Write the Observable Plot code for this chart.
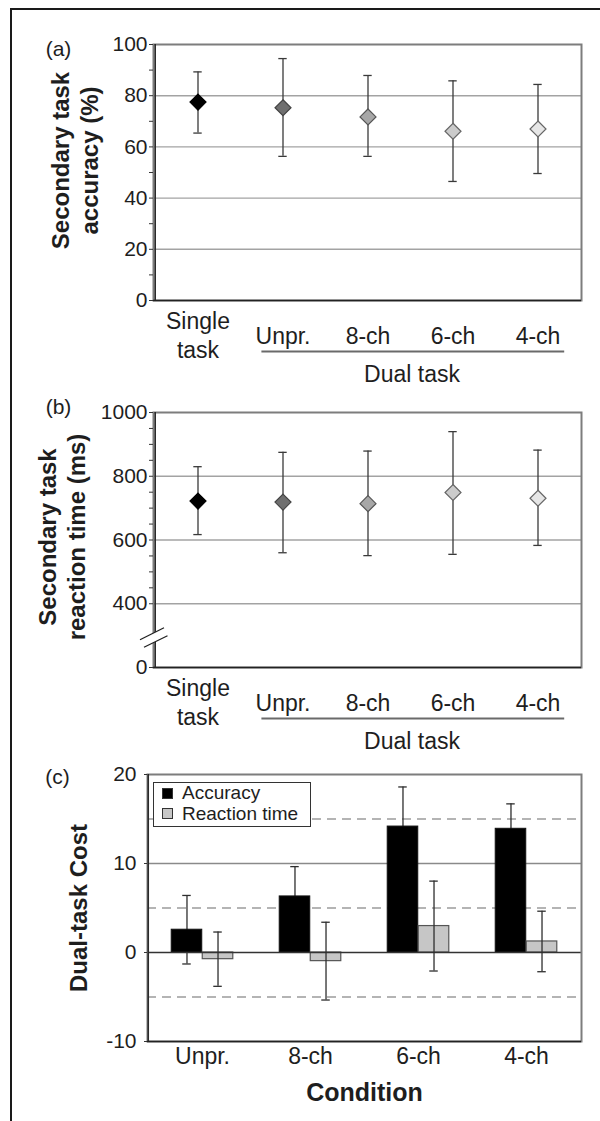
<!DOCTYPE html>
<html><head><meta charset="utf-8">
<script src="https://cdn.jsdelivr.net/npm/d3@7"></script>
<script src="https://cdn.jsdelivr.net/npm/@observablehq/plot@0.6"></script>
<style>
html,body{margin:0;padding:0;background:#fff;}
#fig{position:relative;width:600px;height:1121px;overflow:hidden;font-family:"Liberation Sans",Arial,sans-serif;color:#1e1e1e;}
.border{position:absolute;left:10px;top:8px;right:-5px;bottom:-5px;border-left:2.5px solid #1a1a1a;border-top:2.5px solid #1a1a1a;}
.panel{position:absolute;left:0;width:600px;}
.legend{position:absolute;left:153px;top:782px;width:158px;height:45px;box-sizing:border-box;border:1.5px solid #333;background:#fff;font-size:19px;line-height:20.5px;padding-top:0px;}
.legend .row{display:flex;align-items:center;white-space:nowrap;height:20.5px;}
.legend .sw{width:11px;height:11px;box-sizing:border-box;border:1px solid #333;margin-left:8px;margin-right:9px;}
</style>
</head><body><div id="fig"><div class="border"></div></div>
<script>
// ---------- data ----------
const conditionsAB = ["Single task", "Unpr.", "8-ch", "6-ch", "4-ch"];
const dualGroupLabel = "Dual task";
const accMean = [77.5, 75.3, 71.7, 66.1, 67.0];
const accLow  = [65.4, 56.3, 56.3, 46.5, 49.6];
const accHigh = [89.3, 94.5, 87.9, 85.8, 84.4];
const rtMean = [722, 719, 714, 749, 731];
const rtLow  = [617, 560, 551, 555, 583];
const rtHigh = [830, 875, 879, 940, 882];
const markerFills   = ["#000000", "#6f6f6f", "#a7a7a7", "#cbcbcb", "#e6e6e6"];
const markerStrokes = ["#000000", "#444444", "#555555", "#666666", "#666666"];

const accTicks = [0, 20, 40, 60, 80, 100];
const accMinorTicks = [10, 30, 50, 70, 90];
const accGrid = [20, 40, 60, 80];

const rtAxisFloor = 200;          // where the broken axis shows "0"
const rtBreakAt = 295;            // axis break mark
const rtTicks = [rtAxisFloor, 400, 600, 800, 1000];
const rtMinorTicks = [450, 500, 550, 650, 700, 750, 850, 900, 950];
const rtGrid = [400, 600, 800];

const conditionsC = ["Unpr.", "8-ch", "6-ch", "4-ch"];
const seriesC = ["Accuracy", "Reaction time"];
const seriesFills = ["#000000", "#c6c6c6"];
const costAcc    = [2.56, 6.3, 14.15, 13.9];
const costAccErr = [3.85, 3.35, 4.45, 2.8];
const costRt     = [-0.75, -0.97, 2.97, 1.24];
const costRtErr  = [3.05, 4.37, 5.05, 3.4];
const costTicks = [-10, 0, 10, 20];
const costDashedGrid = [-5, 5, 15];
const costSolidGrid = [10];

const titles = ["Secondary task\naccuracy (%)", "Secondary task\nreaction time (ms)", "Dual-task Cost"];
const panelLetters = ["(a)", "(b)", "(c)"];
const xTitleC = "Condition";

// ---------- helpers ----------
const font = '"Liberation Sans", Arial, sans-serif';
const fig = document.getElementById("fig");
function place(node, top) {
  const d = document.createElement("div");
  d.className = "panel"; d.style.top = top + "px";
  d.appendChild(node); fig.appendChild(d);
}
const baseStyle = {fontFamily: font, fontSize: "21px", color: "#1e1e1e", background: "transparent", overflow: "visible"};
const mlAB = 153, mrAB = 19;
const bwAB = (600 - mlAB - mrAB) / conditionsAB.length;
const capHalf = 4.5;

function dotPanel({mean, low, high, yDomain, ticks, minor, grid, tickFormat, title, letter, height, marginTop, marginBottom, titleDx, titleDy, letterDy, extra = []}) {
  const idx = d3.range(conditionsAB.length);
  const yFloor = yDomain[0];
  const X = i => conditionsAB[i];
  return Plot.plot({
    width: 600, height, marginTop, marginBottom, marginLeft: mlAB, marginRight: mrAB,
    style: baseStyle,
    x: {type: "band", domain: conditionsAB, padding: 0, axis: null},
    y: {domain: yDomain, axis: null},
    color: {type: "identity"},
    marks: [
      Plot.ruleY(grid, {stroke: "#a3a3a3", strokeWidth: 1.4}),
      Plot.frame({stroke: "#7d7d7d", strokeWidth: 2}),
      Plot.ruleY([yFloor], {stroke: "#222", strokeWidth: 1.6}),
      // dark left axis line at the frame's left edge
      Plot.ruleX([conditionsAB[0]], {x: d => d, dx: -bwAB / 2, stroke: "#2a2a2a", strokeWidth: 1.6}),
      Plot.axisY({ticks: minor, tickSize: 4, tickFormat: () => "", stroke: "#333"}),
      Plot.axisY({ticks, tickSize: 4, tickPadding: 2, tickFormat, fontSize: 21, stroke: "#333", label: null}),
      ...extra,
      Plot.ruleX(idx, {x: X, y1: i => low[i], y2: i => high[i], stroke: "#3a3a3a", strokeWidth: 1.3}),
      Plot.tickY(idx, {x: X, y: i => low[i], insetLeft: bwAB / 2 - capHalf, insetRight: bwAB / 2 - capHalf, stroke: "#3a3a3a", strokeWidth: 1.3}),
      Plot.tickY(idx, {x: X, y: i => high[i], insetLeft: bwAB / 2 - capHalf, insetRight: bwAB / 2 - capHalf, stroke: "#3a3a3a", strokeWidth: 1.3}),
      Plot.dot(idx, {x: X, y: i => mean[i], symbol: "diamond2", r: 7.2, fill: i => markerFills[i], stroke: i => markerStrokes[i], strokeWidth: 1.2}),
      Plot.text([conditionsAB[0]], {x: d => d, text: d => d.split(" ").join("\n"), frameAnchor: "bottom", lineAnchor: "bottom", dy: 57, lineHeight: 1.22, fontSize: 23}),
      Plot.text(conditionsAB.slice(1), {x: d => d, frameAnchor: "bottom", lineAnchor: "bottom", dy: 43, fontSize: 23}),
      // bracket line under the dual-task conditions (from just left of "Unpr." to just right of "4-ch")
      Plot.ruleY([yFloor], {dy: 51, insetLeft: 1.5 * bwAB - 20, insetRight: 0.5 * bwAB - 26, stroke: "#6a6a6a", strokeWidth: 1.8}),
      Plot.text([dualGroupLabel], {x: () => conditionsAB[2], dx: 44, frameAnchor: "bottom", lineAnchor: "bottom", dy: 81, fontSize: 23}),
      Plot.text([title], {frameAnchor: "left", rotate: -90, textAnchor: "middle", lineAnchor: "middle", dx: titleDx, dy: titleDy, fontWeight: "bold", fontSize: 24, lineHeight: 1.17}),
      Plot.text([letter], {frameAnchor: "top-left", textAnchor: "middle", lineAnchor: "middle", dx: -95, dy: letterDy, fontSize: 21})
    ]
  });
}

// ---------- panel (a) ----------
place(dotPanel({
  mean: accMean, low: accLow, high: accHigh, yDomain: [0, 100],
  ticks: accTicks, minor: accMinorTicks, grid: accGrid, tickFormat: d => String(d),
  title: titles[0], letter: panelLetters[0], height: 390, marginTop: 44, marginBottom: 90,
  titleDx: -79, titleDy: -12, letterDy: 5
}), 0);

// ---------- panel (b) ----------
const breakMask = {draw(ctx) { ctx.moveTo(-13.5, 2.5); ctx.lineTo(10.5, -9.5); ctx.lineTo(14, -1.5); ctx.lineTo(-9.5, 10); ctx.closePath(); }};
const breakLines = {draw(ctx) { ctx.moveTo(-13.5, 2.5); ctx.lineTo(10.5, -9.5); ctx.moveTo(-9.5, 10); ctx.lineTo(14, -1.5); }};
place(dotPanel({
  mean: rtMean, low: rtLow, high: rtHigh, yDomain: [rtAxisFloor, 1000],
  ticks: rtTicks, minor: rtMinorTicks, grid: rtGrid, tickFormat: d => d === rtAxisFloor ? "0" : String(d),
  title: titles[1], letter: panelLetters[1], height: 370, marginTop: 22, marginBottom: 93,
  titleDx: -92, titleDy: -3, letterDy: -5,
  extra: [
    Plot.dot([rtBreakAt], {y: d => d, frameAnchor: "left", symbol: breakMask, fill: "white", stroke: "none", r: 5}),
    Plot.dot([rtBreakAt], {y: d => d, frameAnchor: "left", symbol: breakLines, fill: "none", stroke: "#222", strokeWidth: 1.3, r: 5})
  ]
}), 390);

// ---------- panel (c) ----------
const mlC = 147, mrC = 19;
const bw = (600 - mlC - mrC) / conditionsC.length;
const barW = bw * 0.286;
const idxC = d3.range(conditionsC.length);
const XC = i => conditionsC[i];
const errColor = "#2e2e2e";
const errorBars = (mean, err, dx, insetLeft, insetRight) => [
  Plot.ruleX(idxC, {x: XC, y1: i => mean[i] - err[i], y2: i => mean[i] + err[i], dx, stroke: errColor, strokeWidth: 1.3}),
  ...[-1, 1].map(s => Plot.tickY(idxC, {x: XC, y: i => mean[i] + s * err[i], insetLeft, insetRight, stroke: errColor, strokeWidth: 1.3}))
];
const chartC = Plot.plot({
  width: 600, height: 361, marginTop: 14, marginBottom: 80, marginLeft: mlC, marginRight: mrC,
  style: baseStyle,
  x: {type: "band", domain: conditionsC, padding: 0, axis: null},
  y: {domain: [-10, 20], axis: null},
  marks: [
    Plot.ruleY(costDashedGrid, {stroke: "#9c9c9c", strokeWidth: 1.5, strokeDasharray: "9,6"}),
    Plot.ruleY(costSolidGrid, {stroke: "#8a8a8a", strokeWidth: 1.4}),
    // accuracy error bars sit behind the black bars
    ...errorBars(costAcc, costAccErr, -barW / 2, bw / 2 - barW / 2 - capHalf, bw / 2 + barW / 2 - capHalf),
    Plot.barY(idxC, {x: XC, y: i => costAcc[i], fill: seriesFills[0], stroke: "#111", strokeWidth: 1, insetLeft: bw / 2 - barW, insetRight: bw / 2}),
    Plot.barY(idxC, {x: XC, y: i => costRt[i], fill: seriesFills[1], stroke: "#555", strokeWidth: 1.2, insetLeft: bw / 2, insetRight: bw / 2 - barW}),
    Plot.ruleY([0], {stroke: "#333", strokeWidth: 1.5}),
    // reaction-time error bars drawn over the grey bars
    ...errorBars(costRt, costRtErr, barW / 2, bw / 2 + barW / 2 - capHalf, bw / 2 - barW / 2 - capHalf),
    Plot.frame({stroke: "#7d7d7d", strokeWidth: 2}),
    Plot.ruleY([-10], {stroke: "#222", strokeWidth: 1.6}),
    Plot.ruleX([conditionsC[0]], {x: d => d, dx: -bw / 2, stroke: "#2a2a2a", strokeWidth: 1.6}),
    Plot.axisY({ticks: costTicks, tickSize: 3, tickPadding: 8, tickFormat: d => String(d), fontSize: 21, stroke: "#333", label: null}),
    Plot.text(conditionsC, {x: d => d, frameAnchor: "bottom", lineAnchor: "bottom", dy: 22, fontSize: 23}),
    Plot.text([xTitleC], {frameAnchor: "bottom", textAnchor: "middle", lineAnchor: "bottom", dy: 59, fontWeight: "bold", fontSize: 25}),
    Plot.text([titles[2]], {frameAnchor: "left", rotate: -90, textAnchor: "middle", lineAnchor: "middle", dx: -68, dy: 0, fontWeight: "bold", fontSize: 24}),
    Plot.text([panelLetters[2]], {frameAnchor: "top-left", textAnchor: "middle", lineAnchor: "middle", dx: -90, dy: 3, fontSize: 21})
  ]
});
place(chartC, 760);

// ---------- legend for (c) ----------
const legend = d3.select(fig).append("div").attr("class", "legend");
seriesC.forEach((s, i) => {
  const row = legend.append("div").attr("class", "row");
  row.append("div").attr("class", "sw").style("background", seriesFills[i]);
  row.append("span").text(s);
});
</script>
</body></html>
